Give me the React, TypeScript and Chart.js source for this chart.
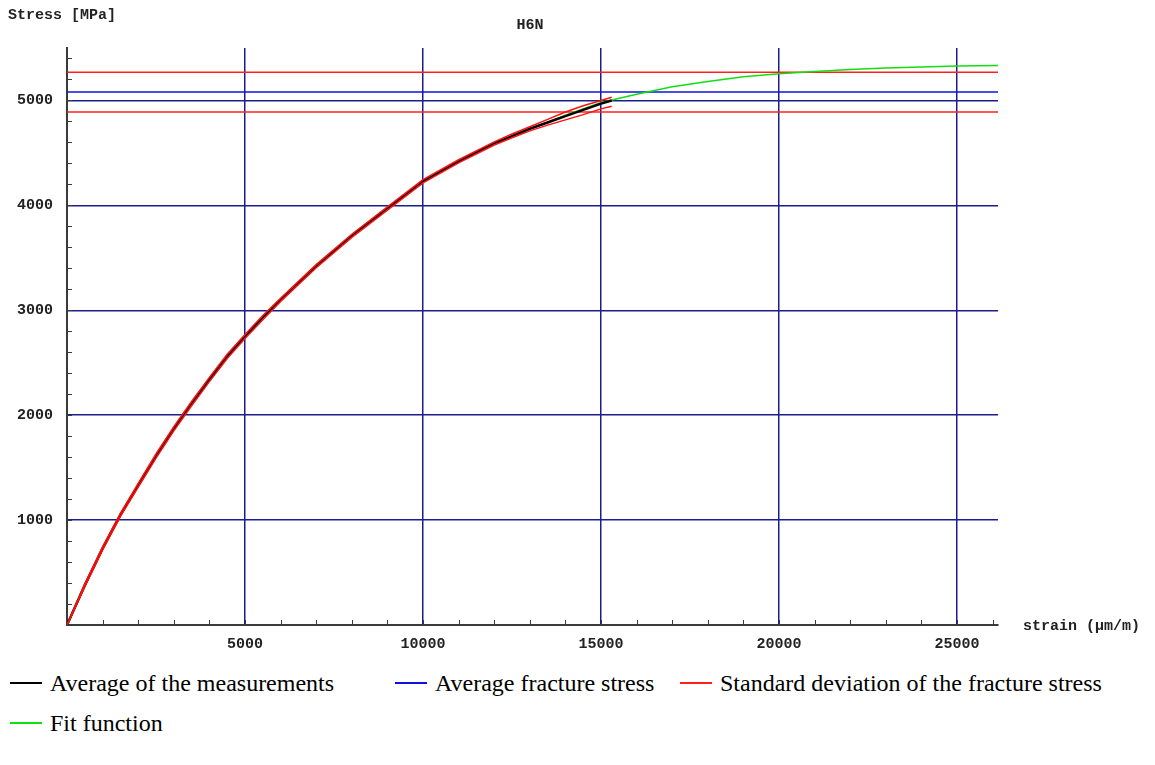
import React, { useEffect, useRef } from 'react';
import { Chart, registerables } from 'chart.js';

Chart.register(...registerables);

const TITLE = 'H6N';
const Y_LABEL = 'Stress [MPa]';
const X_LABEL = 'strain (µm/m)';
const X_MAX = 26150;
const Y_MAX = 5500;

const xTickValues = [0, 5000, 10000, 15000, 20000, 25000];
const yTickValues = [0, 1000, 2000, 3000, 4000, 5000];
const X_MINOR_STEP = 1000;
const Y_MINOR_STEP = 200;

const fitStrain = [0, 500, 1000, 1500, 2000, 2500, 3000, 3500, 4000, 5000, 6000, 7000, 8000, 9000, 10000, 11000, 12000, 13000, 14000, 15000, 16000, 17000, 18000, 19000, 20000, 21000, 22000, 23000, 24000, 25000, 26150];
const fitStress = [0, 370, 720, 1040, 1340, 1620, 1880, 2120, 2350, 2760, 3110, 3430, 3720, 3980, 4220, 4420, 4590, 4730, 4860, 4980, 5060, 5130, 5180, 5225, 5255, 5275, 5295, 5310, 5320, 5328, 5332];

const measStrain = [0, 500, 1000, 1500, 2000, 2500, 3000, 3500, 4000, 4500, 5000, 5500, 6000, 7000, 8000, 9000, 10000, 11000, 12000, 12500, 13000, 13500, 14000, 14500, 15000, 15300];
const avgStress = [0, 380, 730, 1050, 1330, 1610, 1870, 2110, 2340, 2560, 2750, 2930, 3100, 3420, 3710, 3970, 4230, 4420, 4590, 4660, 4730, 4790, 4850, 4910, 4970, 5000];
const upperStress = [0, 390, 745, 1065, 1350, 1630, 1890, 2130, 2360, 2580, 2770, 2950, 3115, 3435, 3725, 3985, 4245, 4435, 4605, 4680, 4750, 4820, 4890, 4950, 5000, 5030];
const lowerStress = [0, 365, 715, 1035, 1315, 1590, 1850, 2090, 2320, 2540, 2730, 2910, 3085, 3405, 3695, 3955, 4215, 4405, 4575, 4645, 4710, 4765, 4815, 4865, 4920, 4945];

const AVG_FRACTURE = 5080;
const SD_HIGH = 5270;
const SD_LOW = 4890;

const legendLabels = ['Average of the measurements', 'Average fracture stress', 'Standard deviation of the fracture stress', 'Fit function'];
const legendColors = ['#000000', '#1010e0', '#ff2020', '#10e010'];

const NAVY = '#1c1c8c';
const AXIS = '#3a3a3a';
const MONO = '"Liberation Mono", "DejaVu Sans Mono", monospace';

const pts = (xs: number[], ys: number[]) => xs.map((x, i) => ({ x, y: ys[i] }));
const hline = (v: number) => [{ x: 0, y: v }, { x: X_MAX, y: v }];

const decorPlugin = {
  id: 'decor',
  afterDraw(chart: any) {
    const { ctx, chartArea, scales } = chart;
    const xs = scales.x;
    const ys = scales.y;
    ctx.save();
    ctx.strokeStyle = AXIS;
    ctx.lineWidth = 1;
    ctx.beginPath();
    for (let v = X_MINOR_STEP; v < X_MAX; v += X_MINOR_STEP) {
      const px = Math.round(xs.getPixelForValue(v)) + 0.5;
      ctx.moveTo(px, chartArea.bottom);
      ctx.lineTo(px, chartArea.bottom - 5);
    }
    for (let v = Y_MINOR_STEP; v < Y_MAX; v += Y_MINOR_STEP) {
      const py = Math.round(ys.getPixelForValue(v)) + 0.5;
      ctx.moveTo(chartArea.left, py);
      ctx.lineTo(chartArea.left + 5, py);
    }
    ctx.stroke();
    ctx.fillStyle = '#222';
    ctx.font = `bold 15px ${MONO}`;
    ctx.textBaseline = 'middle';
    ctx.textAlign = 'left';
    ctx.fillText(Y_LABEL, 8, 15);
    ctx.fillText(X_LABEL, 1023, 626);
    ctx.textAlign = 'center';
    ctx.fillText(TITLE, 530, 25);
    ctx.restore();
  },
};

export default function App() {
  const ref = useRef<HTMLCanvasElement>(null);
  useEffect(() => {
    if (!ref.current) return;
    const lineDs = (label: string, data: any[], color: string, width: number) => ({
      label,
      data,
      borderColor: color,
      backgroundColor: color,
      borderWidth: width,
      pointRadius: 0,
      fill: false,
      tension: 0,
    });
    const tickFont = { family: MONO, size: 15, weight: 'bold' };
    const chart = new Chart(ref.current, {
      type: 'line',
      data: {
        datasets: [
          lineDs('sd upper curve', pts(measStrain, upperStress), '#ff1010', 1.5),
          lineDs('sd lower curve', pts(measStrain, lowerStress), '#ff1010', 1.5),
          lineDs(legendLabels[0], pts(measStrain, avgStress), '#000000', 2.5),
          lineDs(legendLabels[3], pts(fitStrain, fitStress), '#10e010', 1.5),
          lineDs(legendLabels[1], hline(AVG_FRACTURE), '#1010e0', 1.5),
          lineDs(legendLabels[2] + ' high', hline(SD_HIGH), '#ff2020', 1.5),
          lineDs(legendLabels[2] + ' low', hline(SD_LOW), '#ff2020', 1.5),
        ],
      },
      options: {
        animation: false,
        responsive: false,
        events: [],
        layout: { padding: { left: 0, top: 48, right: 157, bottom: 0 } },
        plugins: { legend: { display: false }, title: { display: false }, tooltip: { enabled: false } },
        scales: {
          x: {
            type: 'linear',
            min: 0,
            max: X_MAX,
            afterBuildTicks: (s: any) => { s.ticks = xTickValues.map((v) => ({ value: v })); },
            afterFit: (s: any) => { s.height = 35; },
            border: { display: true, color: AXIS, width: 2 },
            grid: {
              drawTicks: false,
              lineWidth: 1.5,
              color: (c: any) => (c.tick && c.tick.value !== 0 ? NAVY : 'rgba(0,0,0,0)'),
            },
            ticks: {
              autoSkip: false,
              maxRotation: 0,
              padding: 10,
              color: '#222',
              font: tickFont,
              callback: (v: any) => (Number(v) === 0 ? '' : String(v)),
            },
          },
          y: {
            type: 'linear',
            min: 0,
            max: Y_MAX,
            afterBuildTicks: (s: any) => { s.ticks = yTickValues.map((v) => ({ value: v })); },
            afterFit: (s: any) => { s.width = 67; },
            border: { display: true, color: AXIS, width: 2 },
            grid: {
              drawTicks: false,
              lineWidth: 1.5,
              color: (c: any) => (c.tick && c.tick.value !== 0 ? NAVY : 'rgba(0,0,0,0)'),
            },
            ticks: {
              autoSkip: false,
              padding: 14,
              color: '#222',
              font: tickFont,
              callback: (v: any) => (Number(v) === 0 ? '' : String(v)),
            },
          },
        },
      },
      plugins: [decorPlugin],
    } as any);
    return () => chart.destroy();
  }, []);

  const legendPos = [
    { left: 10, top: 683 },
    { left: 395, top: 683 },
    { left: 680, top: 683 },
    { left: 10, top: 723 },
  ];

  return (
    <div style={{ position: 'absolute', left: 0, top: 0, width: 1155, height: 765, background: '#fff' }}>
      <canvas ref={ref} width={1155} height={660} style={{ position: 'absolute', left: 0, top: 0, width: 1155, height: 660 }} />
      {legendLabels.map((lab, i) => (
        <div
          key={lab}
          style={{
            position: 'absolute',
            left: legendPos[i].left,
            top: legendPos[i].top - 15,
            height: 30,
            display: 'flex',
            alignItems: 'center',
            whiteSpace: 'nowrap',
            fontFamily: '"Liberation Serif", "Times New Roman", serif',
            fontSize: 24,
            color: '#000',
          }}
        >
          <span style={{ display: 'inline-block', width: 32, height: 2, background: legendColors[i], marginRight: 8 }} />
          <span>{lab}</span>
        </div>
      ))}
    </div>
  );
}
